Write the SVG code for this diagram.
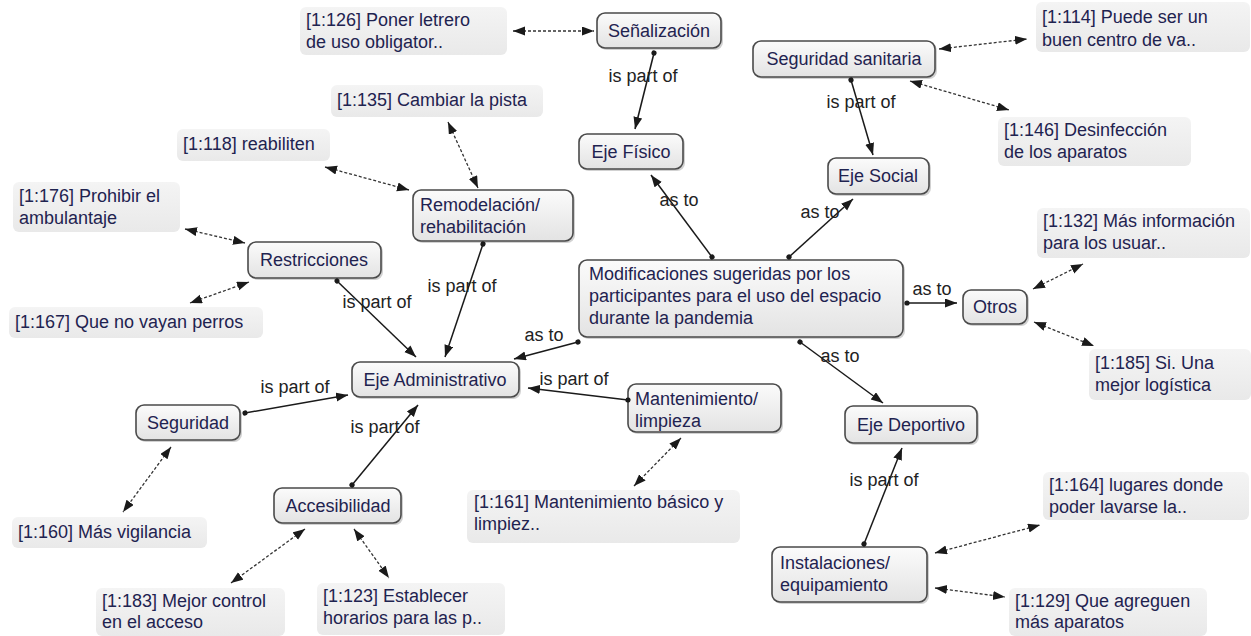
<svg xmlns="http://www.w3.org/2000/svg" width="1251" height="636" viewBox="0 0 1251 636">
  <defs>
    <linearGradient id="conceptFill" x1="0" y1="0" x2="0" y2="1">
      <stop offset="0" stop-color="#fbfbfb"/>
      <stop offset="1" stop-color="#e3e3e3"/>
    </linearGradient>
    <linearGradient id="quoteFill" x1="0" y1="0" x2="0" y2="1">
      <stop offset="0" stop-color="#f4f4f4"/>
      <stop offset="1" stop-color="#e9e9e9"/>
    </linearGradient>
    <marker id="arrow" markerUnits="userSpaceOnUse" markerWidth="13" markerHeight="10" refX="12" refY="4.5" orient="auto-start-reverse">
      <path d="M0,0 L12,4.5 L0,9 Z" fill="#1a1a1a"/>
    </marker>
    <marker id="dot" markerUnits="userSpaceOnUse" markerWidth="6" markerHeight="6" refX="3" refY="3" orient="auto">
      <circle cx="3" cy="3" r="2.6" fill="#1a1a1a"/>
    </marker>
  </defs>
  <style>
    .concept rect.box { fill: url(#conceptFill); stroke: #4a4a4a; stroke-width: 1.6; }
    .concept rect.shadow { fill: #9a9a9a; opacity: 0.45; }
    .quote rect { fill: url(#quoteFill); }
    text { font-family: "Liberation Sans", Arial, sans-serif; font-size: 18px; }
    .concept text, .quote text { fill: #1f2350; }
    .concept text.c { text-anchor: middle; }
    .lbl { fill: #222222; text-anchor: middle; }
    .rel { stroke: #1a1a1a; stroke-width: 1.5; fill: none; marker-start: url(#dot); marker-end: url(#arrow); }
    .link { stroke: #333333; stroke-width: 1.3; stroke-dasharray: 3 2; fill: none; marker-start: url(#arrow); marker-end: url(#arrow); }
  </style>

  <rect width="1251" height="636" fill="#ffffff"/>

  <!-- quotations -->
  <g id="q126" class="quote"><rect x="300" y="7" width="207" height="48" rx="6"/><text x="306" y="26">[1:126] Poner letrero</text><text x="306" y="48">de uso obligator..</text></g>
  <g id="q135" class="quote"><rect x="331" y="85" width="212" height="32" rx="6"/><text x="337" y="106">[1:135] Cambiar la pista</text></g>
  <g id="q118" class="quote"><rect x="177" y="129" width="153" height="32" rx="6"/><text x="183" y="150">[1:118] reabiliten</text></g>
  <g id="q176" class="quote"><rect x="13" y="182" width="167" height="50" rx="6"/><text x="19" y="202">[1:176] Prohibir el</text><text x="19" y="224">ambulantaje</text></g>
  <g id="q167" class="quote"><rect x="9" y="307" width="254" height="31" rx="6"/><text x="15" y="328">[1:167] Que no vayan perros</text></g>
  <g id="q114" class="quote"><rect x="1036" y="2" width="214" height="50" rx="6"/><text x="1042" y="23">[1:114] Puede ser un</text><text x="1042" y="46">buen centro de va..</text></g>
  <g id="q146" class="quote"><rect x="998" y="117" width="193" height="49" rx="6"/><text x="1004" y="136">[1:146] Desinfección</text><text x="1004" y="158">de los aparatos</text></g>
  <g id="q132" class="quote"><rect x="1037" y="208" width="213" height="50" rx="6"/><text x="1043" y="227">[1:132] Más información</text><text x="1043" y="249">para los usuar..</text></g>
  <g id="q185" class="quote"><rect x="1089" y="349" width="162" height="51" rx="6"/><text x="1095" y="369">[1:185] Si. Una</text><text x="1095" y="391">mejor logística</text></g>
  <g id="q160" class="quote"><rect x="12" y="517" width="195" height="31" rx="6"/><text x="18" y="538">[1:160] Más vigilancia</text></g>
  <g id="q183" class="quote"><rect x="96" y="588" width="189" height="48" rx="6"/><text x="102" y="607">[1:183] Mejor control</text><text x="102" y="628">en el acceso</text></g>
  <g id="q123" class="quote"><rect x="317" y="583" width="188" height="52" rx="6"/><text x="323" y="602">[1:123] Establecer</text><text x="323" y="624">horarios para las p..</text></g>
  <g id="q161" class="quote"><rect x="467" y="490" width="273" height="53" rx="6"/><text x="474" y="508">[1:161] Mantenimiento básico y</text><text x="474" y="530">limpiez..</text></g>
  <g id="q164" class="quote"><rect x="1043" y="472" width="206" height="48" rx="6"/><text x="1049" y="491">[1:164] lugares donde</text><text x="1049" y="513">poder lavarse la..</text></g>
  <g id="q129" class="quote"><rect x="1009" y="588" width="198" height="48" rx="6"/><text x="1015" y="607">[1:129] Que agreguen</text><text x="1015" y="628">más aparatos</text></g>

  <!-- concepts -->
  <g id="senalizacion" class="concept"><rect class="shadow" x="599" y="15" width="124" height="35" rx="8"/><rect class="box" x="597" y="13" width="124" height="35" rx="8"/><text class="c" x="659" y="37">Señalización</text></g>
  <g id="eje-fisico" class="concept"><rect class="shadow" x="581" y="136" width="104" height="35" rx="8"/><rect class="box" x="579" y="134" width="104" height="35" rx="8"/><text class="c" x="631" y="158">Eje Físico</text></g>
  <g id="seguridad-sanitaria" class="concept"><rect class="shadow" x="755" y="43" width="182" height="36" rx="8"/><rect class="box" x="753" y="41" width="182" height="36" rx="8"/><text class="c" x="844" y="65">Seguridad sanitaria</text></g>
  <g id="eje-social" class="concept"><rect class="shadow" x="830" y="160" width="101" height="36" rx="8"/><rect class="box" x="828" y="158" width="101" height="36" rx="8"/><text class="c" x="878" y="182">Eje Social</text></g>
  <g id="remodelacion" class="concept"><rect class="shadow" x="415" y="192" width="160" height="51" rx="8"/><rect class="box" x="413" y="190" width="160" height="51" rx="8"/><text x="420" y="211">Remodelación/</text><text x="420" y="233">rehabilitación</text></g>
  <g id="restricciones" class="concept"><rect class="shadow" x="250" y="244" width="133" height="36" rx="8"/><rect class="box" x="248" y="242" width="133" height="36" rx="8"/><text class="c" x="314" y="266">Restricciones</text></g>
  <g id="modificaciones" class="concept"><rect class="shadow" x="581" y="262" width="324" height="77" rx="8"/><rect class="box" x="579" y="260" width="324" height="77" rx="8"/><text x="589" y="280">Modificaciones sugeridas por los</text><text x="589" y="302">participantes para el uso del espacio</text><text x="589" y="324">durante la pandemia</text></g>
  <g id="otros" class="concept"><rect class="shadow" x="965" y="292" width="64" height="34" rx="8"/><rect class="box" x="963" y="290" width="64" height="34" rx="8"/><text class="c" x="995" y="313">Otros</text></g>
  <g id="eje-administrativo" class="concept"><rect class="shadow" x="354" y="364" width="167" height="35" rx="8"/><rect class="box" x="352" y="362" width="167" height="35" rx="8"/><text class="c" x="435" y="386">Eje Administrativo</text></g>
  <g id="mantenimiento" class="concept"><rect class="shadow" x="630" y="386" width="153" height="48" rx="8"/><rect class="box" x="628" y="384" width="153" height="48" rx="8"/><text x="635" y="405">Mantenimiento/</text><text x="635" y="427">limpieza</text></g>
  <g id="seguridad" class="concept"><rect class="shadow" x="138" y="407" width="104" height="35" rx="8"/><rect class="box" x="136" y="405" width="104" height="35" rx="8"/><text class="c" x="188" y="429">Seguridad</text></g>
  <g id="eje-deportivo" class="concept"><rect class="shadow" x="847" y="408" width="132" height="37" rx="8"/><rect class="box" x="845" y="406" width="132" height="37" rx="8"/><text class="c" x="911" y="431">Eje Deportivo</text></g>
  <g id="accesibilidad" class="concept"><rect class="shadow" x="276" y="490" width="127" height="35" rx="8"/><rect class="box" x="274" y="488" width="127" height="35" rx="8"/><text class="c" x="338" y="512">Accesibilidad</text></g>
  <g id="instalaciones" class="concept"><rect class="shadow" x="774" y="549" width="155" height="55" rx="8"/><rect class="box" x="772" y="547" width="155" height="55" rx="8"/><text x="780" y="569">Instalaciones/</text><text x="780" y="591">equipamiento</text></g>

  <!-- connectors -->
  <g id="connectors">
    <!-- solid relations: dot at source, arrow at target -->
    <line class="rel" x1="654" y1="53" x2="635" y2="129"/>
    <line class="rel" x1="851" y1="80" x2="873" y2="155"/>
    <line class="rel" x1="712" y1="257" x2="651" y2="175"/>
    <line class="rel" x1="789" y1="257" x2="853" y2="199"/>
    <line class="rel" x1="907" y1="303" x2="957" y2="303"/>
    <line class="rel" x1="800" y1="342" x2="883" y2="403"/>
    <line class="rel" x1="578" y1="342" x2="514" y2="359"/>
    <line class="rel" x1="337" y1="281" x2="416" y2="357"/>
    <line class="rel" x1="483" y1="244" x2="445" y2="357"/>
    <line class="rel" x1="245" y1="413" x2="348" y2="395"/>
    <line class="rel" x1="352" y1="485" x2="418" y2="405"/>
    <line class="rel" x1="628" y1="400" x2="528" y2="388"/>
    <line class="rel" x1="864" y1="544" x2="902" y2="448"/>

    <!-- dashed links between quotations and concepts -->
    <line class="link" x1="513" y1="31" x2="594" y2="31"/>
    <line class="link" x1="448" y1="122" x2="478" y2="188"/>
    <line class="link" x1="325" y1="167" x2="409" y2="190"/>
    <line class="link" x1="185" y1="229" x2="245" y2="243"/>
    <line class="link" x1="190" y1="303" x2="249" y2="282"/>
    <line class="link" x1="939" y1="49" x2="1027" y2="39"/>
    <line class="link" x1="910" y1="81" x2="1009" y2="110"/>
    <line class="link" x1="1033" y1="289" x2="1083" y2="264"/>
    <line class="link" x1="1034" y1="322" x2="1094" y2="346"/>
    <line class="link" x1="171" y1="447" x2="123" y2="512"/>
    <line class="link" x1="305" y1="529" x2="231" y2="583"/>
    <line class="link" x1="354" y1="529" x2="389" y2="578"/>
    <line class="link" x1="681" y1="438" x2="634" y2="486"/>
    <line class="link" x1="935" y1="553" x2="1040" y2="525"/>
    <line class="link" x1="935" y1="588" x2="1005" y2="597"/>

    <!-- relation labels -->
    <text class="lbl" x="643" y="82">is part of</text>
    <text class="lbl" x="861" y="108">is part of</text>
    <text class="lbl" x="679" y="206">as to</text>
    <text class="lbl" x="820" y="218">as to</text>
    <text class="lbl" x="932" y="295">as to</text>
    <text class="lbl" x="840" y="362">as to</text>
    <text class="lbl" x="544" y="341">as to</text>
    <text class="lbl" x="377" y="308">is part of</text>
    <text class="lbl" x="462" y="292">is part of</text>
    <text class="lbl" x="295" y="393">is part of</text>
    <text class="lbl" x="385" y="433">is part of</text>
    <text class="lbl" x="574" y="385">is part of</text>
    <text class="lbl" x="884" y="486">is part of</text>
  </g>
</svg>
